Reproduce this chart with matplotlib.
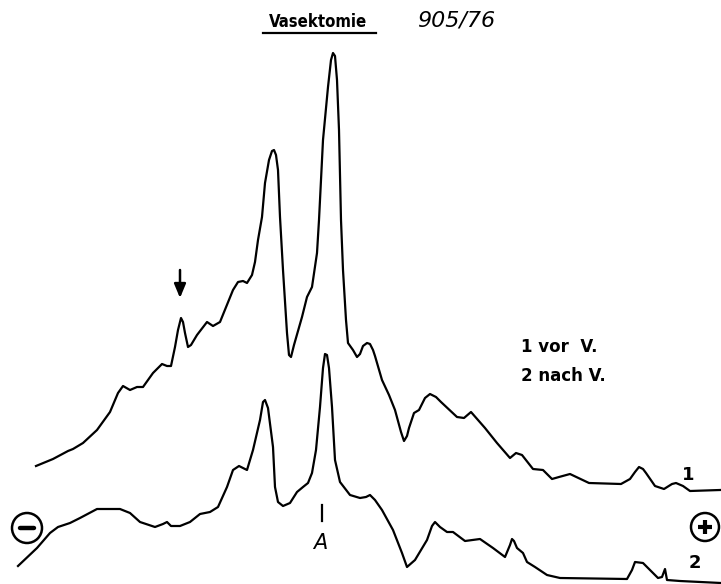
import matplotlib
matplotlib.use("Agg")
import matplotlib.pyplot as plt
from matplotlib.patches import Circle

# densitometer scan, before vasectomy (trace 1)
pos1 = [36, 53, 68, 73, 83, 97, 110, 118, 123, 130, 137, 143, 153, 162, 167, 171,
        175, 178, 181, 183, 185, 188, 191, 197, 207, 213, 220, 233, 238, 243, 247,
        252, 255, 258, 262, 265, 269, 272, 274, 276, 278, 280, 283, 287, 289, 291,
        294, 302, 307, 310, 312, 317, 319, 323, 328, 331, 333, 335, 337, 339, 341,
        343, 346, 348, 353, 357, 360, 363, 367, 370, 373, 375, 382, 389, 395, 401,
        404, 407, 409, 414, 419, 425, 430, 436, 441, 457, 464, 471, 485, 497, 510,
        516, 522, 533, 543, 552, 559, 570, 589, 621, 630, 635, 639, 643, 646, 655,
        664, 672, 676, 683, 690, 720]
sig1 = [466, 459, 451, 449, 443, 430, 412, 393, 386, 390, 387, 387, 373, 364, 366, 366,
        347, 330, 318, 322, 333, 347, 345, 335, 322, 326, 322, 290, 282, 281, 283,
        275, 262, 240, 217, 183, 160, 151, 150, 155, 170, 217, 270, 333, 355, 357,
        345, 317, 297, 291, 287, 253, 220, 140, 87, 60, 53, 56, 80, 130, 220,
        270, 320, 343, 350, 357, 354, 346, 343, 344, 350, 356, 380, 395, 410, 432,
        441, 436, 428, 413, 410, 398, 394, 397, 402, 417, 418, 412, 428, 443, 458,
        453, 455, 469, 470, 479, 477, 474, 483, 484, 479, 472, 467, 469, 473, 486,
        489, 484, 483, 486, 491, 490]

# densitometer scan, after vasectomy (trace 2)
pos2 = [18, 37, 50, 58, 70, 80, 97, 120, 130, 140, 155, 163, 167, 171, 180, 190,
        200, 210, 218, 227, 233, 239, 247, 253, 260, 263, 265, 268, 273, 275, 278,
        283, 290, 297, 303, 308, 312, 316, 320, 323, 325, 327, 329, 332, 335, 340,
        350, 360, 366, 370, 375, 382, 393, 402, 407, 415, 427, 432, 435, 440, 447,
        453, 465, 480, 493, 505, 510, 512, 514, 517, 523, 527, 535, 547, 560, 627,
        632, 635, 643, 650, 658, 662, 665, 667, 680, 721]
sig2 = [566, 548, 533, 527, 523, 518, 509, 509, 513, 522, 527, 524, 522, 526, 526, 522,
        514, 512, 507, 487, 470, 466, 470, 450, 420, 402, 400, 408, 447, 487, 502,
        506, 503, 492, 487, 483, 473, 450, 407, 368, 354, 355, 368, 407, 460, 482,
        495, 498, 497, 495, 500, 510, 530, 553, 567, 560, 540, 526, 522, 527, 532,
        532, 541, 539, 548, 557, 545, 539, 541, 548, 553, 562, 567, 575, 578, 579,
        570, 562, 563, 570, 578, 577, 569, 580, 581, 583]

fig = plt.figure(figsize=(7.21, 5.84), dpi=100)
ax = fig.add_axes([0, 0, 1, 1])
ax.set_xlim(0, 721)
ax.set_ylim(584, 0)
ax.axis("off")

ax.plot(pos1, sig1, color="black", lw=1.6, solid_joinstyle="round")
ax.plot(pos2, sig2, color="black", lw=1.6, solid_joinstyle="round")

# heading
ax.text(318, 22, "Vasektomie", fontsize=12, fontweight="bold", family="DejaVu Sans",
        fontstretch="condensed", ha="center", va="center")
ax.plot([263, 376], [33, 33], color="black", lw=1.6)
ax.text(456, 21, "905/76", fontsize=16, style="italic", family="DejaVu Sans",
        ha="center", va="center")

# legend text
ax.text(521, 347, "1 vor  V.", fontsize=12, fontweight="bold", family="DejaVu Sans",
        ha="left", va="center")
ax.text(521, 376, "2 nach V.", fontsize=12, fontweight="bold", family="DejaVu Sans",
        ha="left", va="center")

# trace labels
ax.text(688, 475, "1", fontsize=13, fontweight="bold", family="DejaVu Sans",
        ha="center", va="center")
ax.text(695, 563, "2", fontsize=13, fontweight="bold", family="DejaVu Sans",
        ha="center", va="center")

# marker arrow over the small band
ax.annotate("", xy=(180, 298), xytext=(180, 270),
            arrowprops=dict(arrowstyle="-|>,head_length=0.6,head_width=0.25",
                            color="black", lw=1.8, mutation_scale=14,
                            shrinkA=0, shrinkB=0))

# band A
ax.plot([322, 322], [505, 521], color="black", lw=1.6)
ax.text(320, 543, "A", fontsize=15, style="italic", family="DejaVu Sans",
        ha="center", va="center")

# electrode poles
ax.add_patch(Circle((27, 528), 15, fill=False, lw=1.8, color="black"))
ax.plot([20, 34], [528, 528], color="black", lw=3.2, solid_capstyle="round")
ax.add_patch(Circle((705, 527), 14, fill=False, lw=1.8, color="black"))
ax.plot([698, 712], [527, 527], color="black", lw=3.0, solid_capstyle="butt")
ax.plot([705, 705], [520, 534], color="black", lw=3.0, solid_capstyle="butt")

fig.savefig("out.png", dpi=100, facecolor="white")
